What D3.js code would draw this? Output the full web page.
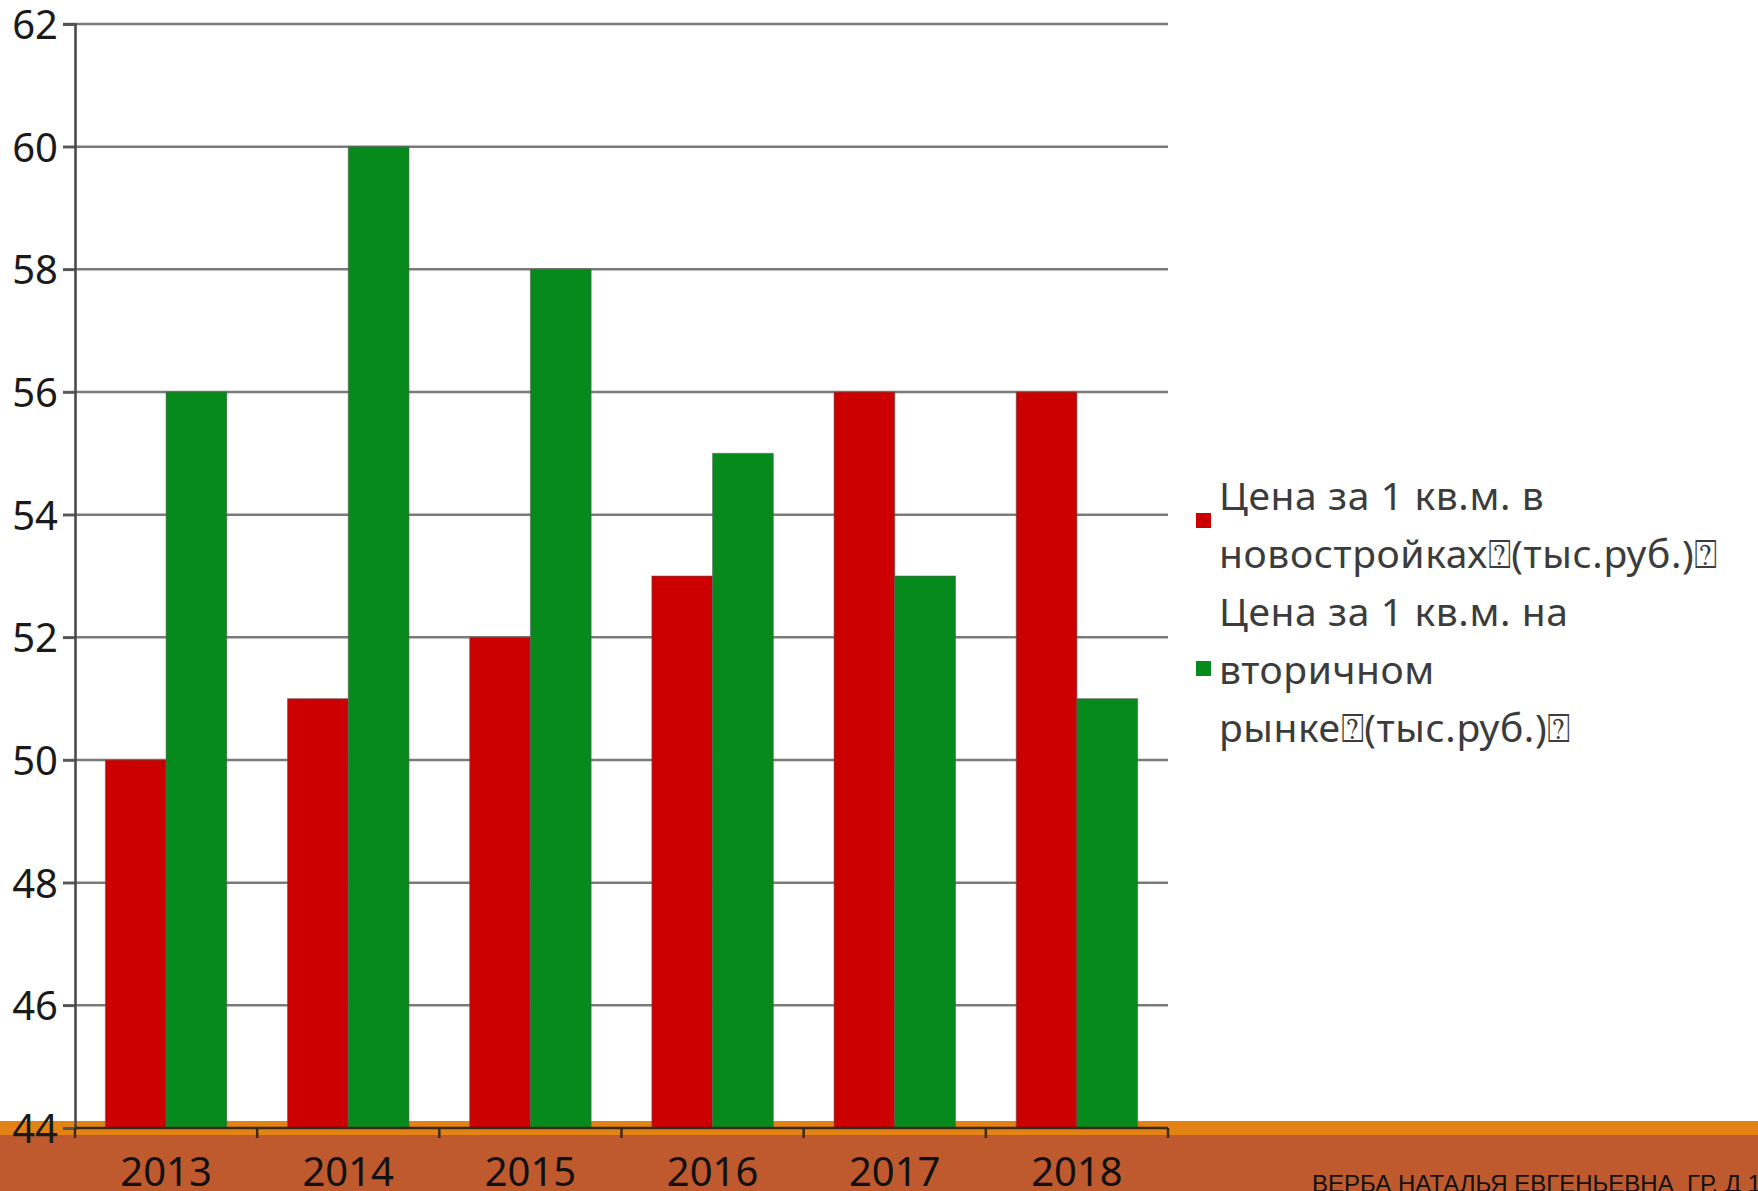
<!DOCTYPE html>
<html>
<head>
<meta charset="utf-8">
<script src="https://cdn.jsdelivr.net/npm/d3@7"></script>
<style>
  html, body { margin: 0; padding: 0; background: #ffffff; overflow: hidden; }
  svg { display: block; }
</style>
</head>
<body>
<svg id="chart" width="1758" height="1191"></svg>
<script>
// Price per square metre, thousand roubles
const years = ["2013", "2014", "2015", "2016", "2017", "2018"];
const newBuildPrices = [50, 51, 52, 53, 56, 56];
const resalePrices = [56, 60, 58, 55, 53, 51];
const seriesNames = [
  ["Цена за 1 кв.м. в", "новостройках\u2370(тыс.руб.)\u2370"],
  ["Цена за 1 кв.м. на", "вторичном", "рынке\u2370(тыс.руб.)\u2370"]
];
const yTicks = [44, 46, 48, 50, 52, 54, 56, 58, 60, 62];
const footerText = "ВЕРБА НАТАЛЬЯ ЕВГЕНЬЕВНА  ГР. Д 19";

(function draw() {
  const W = 1758, H = 1191;
  const colors = ["#cc0000", "#078a1c"];
  const series = [newBuildPrices, resalePrices];

  const svg = d3.select("#chart");

  // Slide footer band
  svg.append("rect").attr("x", 0).attr("y", 1121).attr("width", W).attr("height", 14).attr("fill", "#e38315");
  svg.append("rect").attr("x", 0).attr("y", 1135).attr("width", W).attr("height", H - 1135).attr("fill", "#be5a2e");
  svg.append("text")
    .attr("x", 1312).attr("y", 1192)
    .attr("font-family", "'Liberation Sans', Arial, sans-serif")
    .attr("font-size", 24)
    .attr("fill", "#111")
    .style("white-space", "pre")
    .text(footerText);

  const plotLeft = 75, plotRight = 1168, plotTop = 24, plotBottom = 1128;

  const x = d3.scaleBand().domain(years).range([plotLeft, plotRight]).padding(0);
  const xs = d3.scaleBand().domain([0, 1]).range([0, x.bandwidth()]).paddingInner(0).paddingOuter(0.5);
  const y = d3.scaleLinear().domain([44, 62]).range([plotBottom, plotTop]);

  // Horizontal gridlines
  svg.append("g")
    .selectAll("line")
    .data(yTicks.filter(t => t !== 44))
    .join("line")
    .attr("x1", plotLeft - 12).attr("x2", plotRight)
    .attr("y1", d => y(d)).attr("y2", d => y(d))
    .attr("stroke", "#7a7a7a").attr("stroke-width", 2.5);

  // Bars
  const groups = svg.append("g")
    .selectAll("g")
    .data(years)
    .join("g")
    .attr("transform", d => `translate(${x(d)},0)`);

  groups.selectAll("rect")
    .data((d, i) => series.map((s, k) => ({ k, v: s[i] })))
    .join("rect")
    .attr("x", d => xs(d.k))
    .attr("width", xs.bandwidth())
    .attr("y", d => y(d.v))
    .attr("height", d => y(44) - y(d.v))
    .attr("fill", d => colors[d.k])
    .attr("stroke", "rgba(90,90,90,0.55)")
    .attr("stroke-width", 1);

  // Y axis
  const yAxis = svg.append("g")
    .attr("transform", `translate(${plotLeft},0)`)
    .call(d3.axisLeft(y).tickValues(yTicks).tickFormat(d3.format("d")).tickSize(12).tickPadding(5));
  yAxis.select(".domain").attr("stroke", "#444").attr("stroke-width", 2.5);
  yAxis.selectAll(".tick line").attr("stroke", "#555").attr("stroke-width", 2.5);
  yAxis.selectAll(".tick text")
    .attr("font-family", "'Noto Sans', sans-serif")
    .attr("font-size", 40)
    .attr("fill", "#1a1a1a")
    .attr("dy", "0.36em");

  // X axis
  const xAxis = svg.append("g")
    .attr("transform", `translate(0,${plotBottom})`)
    .call(d3.axisBottom(x).tickSize(0).tickPadding(0));
  xAxis.select(".domain").remove();
  svg.append("line")
    .attr("x1", plotLeft).attr("x2", plotRight).attr("y1", plotBottom).attr("y2", plotBottom)
    .attr("stroke", "#3a2a1a").attr("stroke-width", 2.5);
  svg.append("g")
    .selectAll("line")
    .data(years.map(d => x(d)).concat([plotRight]))
    .join("line")
    .attr("x1", d => d).attr("x2", d => d)
    .attr("y1", plotBottom).attr("y2", plotBottom + 10)
    .attr("stroke", "#3a2a1a").attr("stroke-width", 2.5);
  xAxis.selectAll(".tick text")
    .attr("font-family", "'Noto Sans', sans-serif")
    .attr("font-size", 40)
    .attr("fill", "#111")
    .attr("dy", 0)
    .attr("y", 1186 - plotBottom);

  // Legend
  const legend = svg.append("g")
    .attr("font-family", "'Noto Sans', sans-serif")
    .attr("font-size", 39)
    .attr("letter-spacing", 0.6)
    .attr("fill", "#3c3c3c");
  const swatchY = [513, 661];
  const lineStart = [510, 626];
  const lineGap = 58;
  seriesNames.forEach((lines, k) => {
    legend.append("rect")
      .attr("x", 1196).attr("y", swatchY[k]).attr("width", 15).attr("height", 15)
      .attr("fill", colors[k]);
    lines.forEach((t, j) => {
      legend.append("text")
        .attr("x", 1219).attr("y", lineStart[k] + j * lineGap)
        .text(t);
    });
  });
})();
</script>
</body>
</html>
